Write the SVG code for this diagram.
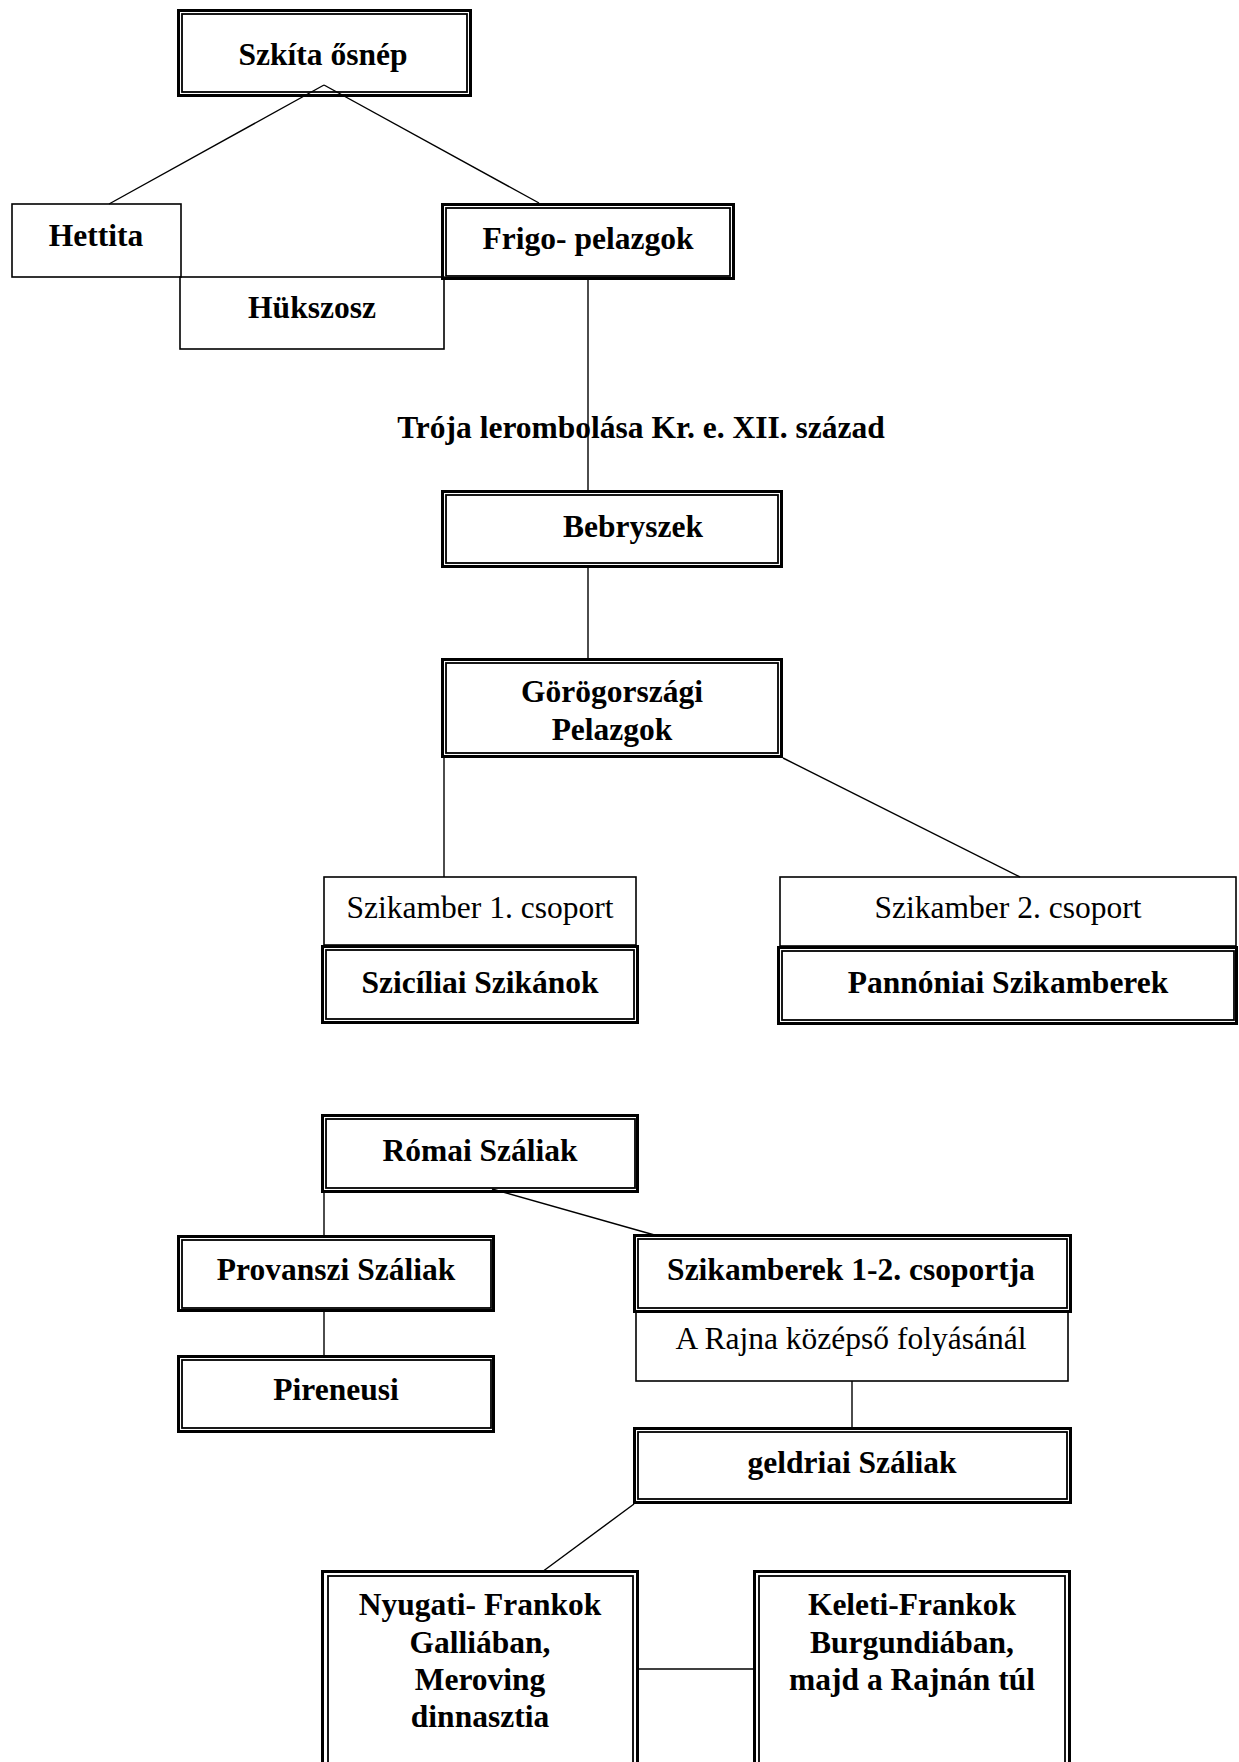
<svg xmlns="http://www.w3.org/2000/svg" width="1239" height="1762" viewBox="0 0 1239 1762">
<style>
.o{fill:none;stroke:#000;stroke-width:3}
.i{fill:none;stroke:#000;stroke-width:1.8}
.s{fill:none;stroke:#000;stroke-width:1.6}
.c line{stroke:#000;stroke-width:1.4}
text{font-family:"Liberation Serif","Times New Roman",serif;font-size:31.5px;fill:#000;text-anchor:middle}
.b{font-weight:bold}
</style>
<rect width="1239" height="1762" fill="#fff"/>
<g id="n-szkita">
<rect class="o" x="178.5" y="10.5" width="292" height="85"/>
<rect class="i" x="182" y="14" width="285" height="78"/>
<text class="b" x="323" y="65">Szkíta ősnép</text>
</g>
<g id="n-hettita">
<rect class="s" x="12" y="204" width="169" height="73"/>
<text class="b" x="96" y="246">Hettita</text>
</g>
<g id="n-hukszosz">
<rect class="s" x="180" y="277" width="264" height="72"/>
<text class="b" x="312" y="318">Hükszosz</text>
</g>
<g id="n-frigo">
<rect class="o" x="442.5" y="204.5" width="291" height="74"/>
<rect class="i" x="446" y="208" width="284" height="68"/>
<text class="b" x="588" y="249">Frigo- pelazgok</text>
</g>
<g id="t-troja">
<text class="b" x="641" y="438">Trója lerombolása Kr. e. XII. század</text>
</g>
<g id="n-bebryszek">
<rect class="o" x="442.5" y="491.5" width="339" height="75"/>
<rect class="i" x="446" y="495" width="332" height="68"/>
<text class="b" x="633" y="537">Bebryszek</text>
</g>
<g id="n-gorog">
<rect class="o" x="442.5" y="659.5" width="339" height="97"/>
<rect class="i" x="446" y="663" width="332" height="90"/>
<text class="b" x="612" y="702">Görögországi</text>
<text class="b" x="612" y="740">Pelazgok</text>
</g>
<g id="n-szikamber1">
<rect class="s" x="324" y="877" width="312" height="68"/>
<text x="480" y="918">Szikamber 1. csoport</text>
</g>
<g id="n-sziciliai">
<rect class="o" x="322.5" y="946.5" width="315" height="76"/>
<rect class="i" x="326" y="950" width="308" height="69"/>
<text class="b" x="480" y="993">Szicíliai Szikánok</text>
</g>
<g id="n-szikamber2">
<rect class="s" x="780" y="877" width="456" height="69"/>
<text x="1008" y="918">Szikamber 2. csoport</text>
</g>
<g id="n-pannoniai">
<rect class="o" x="778.5" y="947.5" width="458" height="76"/>
<rect class="i" x="782" y="951" width="452" height="69"/>
<text class="b" x="1008" y="993">Pannóniai Szikamberek</text>
</g>
<g id="n-romai">
<rect class="o" x="322.5" y="1115.5" width="315" height="76"/>
<rect class="i" x="326" y="1119" width="309" height="69"/>
<text class="b" x="480" y="1161">Római Száliak</text>
</g>
<g id="n-provanszi">
<rect class="o" x="178.5" y="1236.5" width="315" height="74"/>
<rect class="i" x="182" y="1240" width="309" height="68"/>
<text class="b" x="336" y="1280">Provanszi Száliak</text>
</g>
<g id="n-pireneusi">
<rect class="o" x="178.5" y="1356.5" width="315" height="75"/>
<rect class="i" x="182" y="1360" width="309" height="68"/>
<text class="b" x="336" y="1400">Pireneusi</text>
</g>
<g id="n-szikamberek">
<rect class="o" x="634.5" y="1235.5" width="436" height="76"/>
<rect class="i" x="638" y="1239" width="429" height="69"/>
<text class="b" x="851" y="1280">Szikamberek 1-2. csoportja</text>
</g>
<g id="n-rajna">
<rect class="s" x="636" y="1311" width="432" height="70"/>
<text x="851" y="1349">A Rajna középső folyásánál</text>
</g>
<g id="n-geldriai">
<rect class="o" x="634.5" y="1428.5" width="436" height="74"/>
<rect class="i" x="638" y="1432" width="429" height="67"/>
<text class="b" x="852" y="1473">geldriai Száliak</text>
</g>
<g id="n-nyugati">
<rect class="o" x="322.5" y="1571.5" width="315" height="220"/>
<rect class="i" x="328" y="1576" width="305" height="220"/>
<text class="b" x="480" y="1615">Nyugati- Frankok</text>
<text class="b" x="480" y="1653">Galliában,</text>
<text class="b" x="480" y="1690">Meroving</text>
<text class="b" x="480" y="1727">dinnasztia</text>
</g>
<g id="n-keleti">
<rect class="o" x="754.5" y="1571.5" width="315" height="220"/>
<rect class="i" x="759" y="1576" width="306" height="220"/>
<text class="b" x="912" y="1615">Keleti-Frankok</text>
<text class="b" x="912" y="1653">Burgundiában,</text>
<text class="b" x="912" y="1690">majd a Rajnán túl</text>
</g>
<g id="connectors" class="c">
<line x1="324" y1="85" x2="109" y2="204"/>
<line x1="324" y1="85" x2="539" y2="203"/>
<line x1="588" y1="277" x2="588" y2="492"/>
<line x1="588" y1="568" x2="588" y2="658"/>
<line x1="444" y1="758" x2="444" y2="877"/>
<line x1="783" y1="758" x2="1020" y2="877"/>
<line x1="324" y1="1193" x2="324" y2="1236"/>
<line x1="492" y1="1189" x2="658" y2="1236"/>
<line x1="324" y1="1312" x2="324" y2="1356"/>
<line x1="852" y1="1381" x2="852" y2="1428"/>
<line x1="634" y1="1504" x2="542" y2="1572"/>
<line x1="639" y1="1669" x2="754" y2="1669"/>
</g>
</svg>
